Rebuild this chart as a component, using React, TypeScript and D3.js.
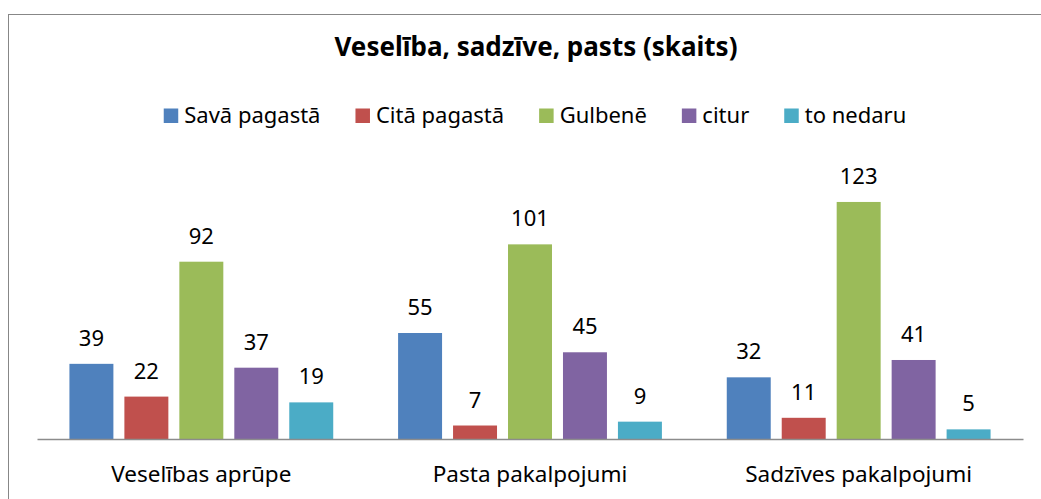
import React, { useEffect, useRef } from 'react';
import * as d3 from 'd3';

const categories = ['Veselības aprūpe', 'Pasta pakalpojumi', 'Sadzīves pakalpojumi'];
const seriesNames = ['Savā pagastā', 'Citā pagastā', 'Gulbenē', 'citur', 'to nedaru'];
const seriesColors = ['#4F81BD', '#C0504D', '#9BBB59', '#8064A2', '#4BACC6'];
const savaPagasta = [39, 55, 32];
const citaPagasta = [22, 7, 11];
const gulbene = [92, 101, 123];
const citur = [37, 45, 41];
const toNedaru = [19, 9, 5];

const seriesValues = [savaPagasta, citaPagasta, gulbene, citur, toNedaru];

const App = () => {
    const svgRef = useRef<SVGSVGElement>(null);

    useEffect(() => {
        const width = 1041;
        const height = 499;
        const font = '"Noto Sans", sans-serif';
        const plotLeft = 37;
        const plotRight = 1023;
        const baseline = 439;

        const svg = d3.select(svgRef.current)
            .attr('width', width)
            .attr('height', height)
            .attr('viewBox', [0, 0, width, height])
            .style('display', 'block')
            .style('position', 'absolute')
            .style('left', '0px')
            .style('top', '0px')
            .style('font-family', font);
        svg.selectAll('*').remove();

        // chart frame (right and bottom edges fall outside the picture)
        svg.append('rect')
            .attr('x', 8.5).attr('y', 14.5)
            .attr('width', 1100).attr('height', 600)
            .attr('fill', '#fff')
            .attr('stroke', '#878787');

        svg.append('text')
            .attr('x', 536).attr('y', 56)
            .attr('text-anchor', 'middle')
            .attr('font-size', 26)
            .attr('font-weight', 'bold')
            .text('Veselība, sadzīve, pasts (skaits)');

        const x0 = d3.scaleBand<string>()
            .domain(categories)
            .range([plotLeft, plotRight]);

        const x1 = d3.scaleBand<string>()
            .domain(seriesNames)
            .range([0, x0.bandwidth()])
            .paddingInner(0.2)
            .paddingOuter(0.59);

        const y = d3.scaleLinear()
            .domain([0, 140])
            .range([baseline, 169.2]);

        const rows = categories.flatMap((c, ci) =>
            seriesNames.map((s, si) => ({ c, s, si, v: seriesValues[si][ci] })));

        svg.append('g')
            .selectAll('rect')
            .data(rows)
            .join('rect')
            .attr('x', d => x0(d.c)! + x1(d.s)!)
            .attr('y', d => y(d.v))
            .attr('width', x1.bandwidth())
            .attr('height', d => y(0) - y(d.v))
            .attr('fill', d => seriesColors[d.si]);

        svg.append('g')
            .attr('font-size', 22)
            .attr('text-anchor', 'middle')
            .attr('fill', '#000')
            .selectAll('text')
            .data(rows)
            .join('text')
            .attr('x', d => x0(d.c)! + x1(d.s)! + x1.bandwidth() / 2)
            .attr('y', d => y(d.v) - 18)
            .text(d => d.v);

        const xAxis = svg.append('g')
            .attr('transform', `translate(0,${baseline})`)
            .call(d3.axisBottom(x0).tickSize(0).tickSizeOuter(0).tickPadding(27));
        xAxis.select('.domain').attr('stroke', '#8c8c8c').attr('stroke-width', 1.5);
        xAxis.selectAll('text')
            .attr('font-size', 22.5)
            .attr('font-family', font)
            .attr('fill', '#000');

        // legend, centred under the title
        const legend = svg.append('g').attr('font-size', 22);
        const items = legend.selectAll('g')
            .data(seriesNames)
            .join('g');
        items.append('rect')
            .attr('width', 14.5).attr('height', 14.5)
            .attr('y', -14.5)
            .attr('fill', (_, i) => seriesColors[i]);
        items.append('text')
            .attr('x', 20.5)
            .text(d => d);
        let cx = 0;
        items.each(function () {
            const g = d3.select(this);
            const w = 20.5 + (g.select('text').node() as SVGTextElement).getComputedTextLength();
            g.attr('transform', `translate(${cx},0)`);
            cx += w + 35;
        });
        const total = cx - 35;
        legend.attr('transform', `translate(${535 - total / 2},123)`);
    }, []);

    return <svg ref={svgRef}></svg>;
};

export default App;
